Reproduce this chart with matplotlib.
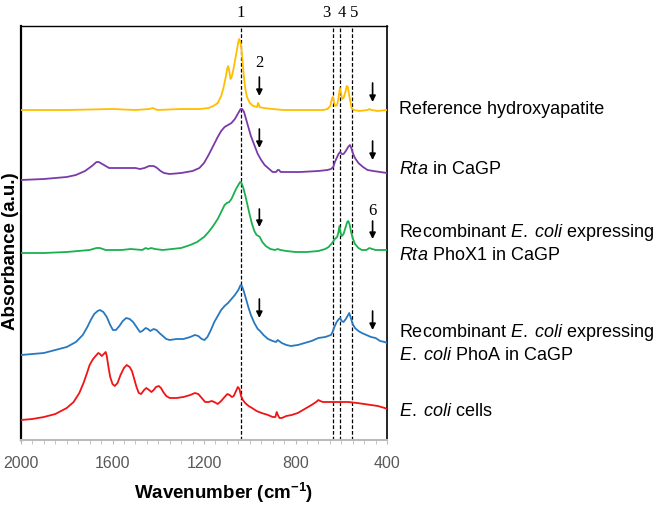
import matplotlib.pyplot as plt

plt.rcParams['font.family'] = ['Liberation Sans', 'DejaVu Sans']
plt.rcParams['mathtext.fontset'] = 'custom'
plt.rcParams['mathtext.rm'] = 'Liberation Sans'
plt.rcParams['mathtext.it'] = 'Liberation Sans:italic'
plt.rcParams['mathtext.bf'] = 'Liberation Sans:bold'

# spectra (wavenumber, absorbance incl. stacking offset)
ha_wn = [2000, 1800, 1600, 1500, 1440, 1423, 1405, 1300, 1217, 1180, 1159, 1140, 1125, 1115, 1105,
         1098, 1094, 1089, 1084, 1079, 1072, 1064, 1057, 1050, 1046, 1042, 1037, 1032, 1026, 1020,
         1012, 1000, 985, 968, 964, 961, 957, 940, 900, 853, 750, 680, 660, 648, 640, 636, 632, 626,
         618, 612, 606, 601, 596, 590, 582, 576, 571, 566, 560, 555, 545, 520, 485, 477, 468, 440, 400]
ha_abs = [3.30, 3.30, 3.31, 3.30, 3.31, 3.32, 3.30, 3.31, 3.31, 3.32, 3.34, 3.37, 3.44, 3.52, 3.63,
          3.72, 3.74, 3.68, 3.61, 3.63, 3.70, 3.80, 3.89, 3.98, 4.01, 3.99, 3.92, 3.80, 3.64, 3.52,
          3.43, 3.37, 3.34, 3.33, 3.37, 3.36, 3.33, 3.32, 3.31, 3.30, 3.30, 3.30, 3.31, 3.34, 3.42,
          3.43, 3.38, 3.34, 3.35, 3.42, 3.52, 3.47, 3.41, 3.42, 3.48, 3.54, 3.53, 3.46, 3.38, 3.32,
          3.30, 3.29, 3.30, 3.31, 3.30, 3.29, 3.30]

rta_wn = [2000, 1900, 1800, 1760, 1720, 1690, 1670, 1660, 1645, 1630, 1615, 1580, 1540, 1500, 1480,
          1460, 1440, 1420, 1405, 1390, 1375, 1350, 1300, 1250, 1220, 1200, 1180, 1160, 1140, 1125,
          1110, 1095, 1080, 1065, 1050, 1040, 1033, 1025, 1015, 1005, 995, 980, 965, 950, 935, 920,
          900, 885, 878, 872, 865, 840, 780, 700, 660, 645, 635, 628, 620, 612, 605, 598, 590, 580,
          570, 562, 556, 548, 540, 525, 505, 485, 460, 430, 400]
rta_abs = [2.60, 2.61, 2.63, 2.65, 2.69, 2.74, 2.78, 2.78, 2.76, 2.74, 2.72, 2.72, 2.72, 2.72, 2.71,
           2.72, 2.74, 2.74, 2.72, 2.69, 2.67, 2.66, 2.67, 2.69, 2.72, 2.77, 2.85, 2.94, 3.03, 3.09,
           3.13, 3.15, 3.17, 3.21, 3.27, 3.31, 3.31, 3.28, 3.20, 3.12, 3.04, 2.95, 2.86, 2.80, 2.75,
           2.72, 2.68, 2.68, 2.70, 2.70, 2.68, 2.68, 2.68, 2.69, 2.70, 2.71, 2.73, 2.78, 2.82, 2.86,
           2.88, 2.86, 2.86, 2.89, 2.93, 2.95, 2.92, 2.86, 2.82, 2.77, 2.73, 2.70, 2.69, 2.68, 2.67]

phox_wn = [2000, 1900, 1800, 1700, 1670, 1655, 1630, 1600, 1560, 1520, 1470, 1455, 1445, 1430, 1415,
           1380, 1340, 1300, 1260, 1230, 1200, 1180, 1160, 1140, 1125, 1110, 1100, 1090, 1080, 1070,
           1060, 1050, 1042, 1036, 1028, 1020, 1010, 1000, 990, 980, 970, 962, 956, 945, 930, 910,
           890, 878, 865, 840, 800, 750, 700, 670, 655, 640, 628, 618, 612, 608, 604, 598, 590, 582,
           574, 569, 563, 557, 550, 540, 525, 510, 490, 477, 465, 450, 400]
phox_abs = [1.87, 1.87, 1.88, 1.90, 1.92, 1.92, 1.90, 1.90, 1.90, 1.91, 1.90, 1.92, 1.91, 1.92, 1.91,
            1.90, 1.91, 1.92, 1.95, 1.98, 2.03, 2.08, 2.14, 2.21, 2.28, 2.35, 2.37, 2.38, 2.41, 2.46,
            2.51, 2.55, 2.58, 2.57, 2.52, 2.45, 2.35, 2.25, 2.16, 2.09, 2.05, 2.04, 2.03, 1.98, 1.94,
            1.91, 1.90, 1.91, 1.90, 1.89, 1.88, 1.88, 1.89, 1.91, 1.93, 1.97, 2.01, 2.03, 2.08, 2.14,
            2.08, 2.04, 2.06, 2.12, 2.18, 2.19, 2.15, 2.08, 2.02, 1.96, 1.92, 1.90, 1.90, 1.92, 1.91,
            1.90, 1.90]

phoa_wn = [2000, 1950, 1900, 1850, 1800, 1760, 1730, 1710, 1695, 1680, 1665, 1655, 1640, 1625, 1610,
           1598, 1585, 1570, 1555, 1540, 1525, 1510, 1495, 1480, 1470, 1455, 1445, 1435, 1420, 1408,
           1395, 1380, 1365, 1350, 1320, 1290, 1260, 1240, 1225, 1210, 1198, 1185, 1170, 1155, 1140,
           1125, 1110, 1095, 1080, 1065, 1050, 1040, 1034, 1025, 1015, 1005, 995, 980, 965, 955, 940,
           920, 900, 885, 878, 872, 860, 840, 820, 790, 760, 730, 700, 670, 645, 638, 630, 620, 610,
           605, 598, 590, 580, 570, 565, 558, 550, 540, 525, 510, 490, 470, 450, 430, 410, 400]
phoa_abs = [0.85, 0.86, 0.87, 0.90, 0.93, 0.98, 1.05, 1.13, 1.20, 1.26, 1.29, 1.30, 1.28, 1.23, 1.15,
            1.10, 1.10, 1.14, 1.19, 1.22, 1.21, 1.18, 1.13, 1.08, 1.09, 1.12, 1.11, 1.09, 1.11, 1.10,
            1.07, 1.04, 1.01, 1.00, 1.01, 1.01, 1.03, 1.05, 1.04, 1.01, 1.00, 1.03, 1.10, 1.18, 1.24,
            1.30, 1.34, 1.37, 1.41, 1.45, 1.50, 1.55, 1.54, 1.48, 1.40, 1.32, 1.25, 1.17, 1.11, 1.09,
            1.05, 1.01, 0.99, 0.98, 1.00, 0.99, 0.97, 0.95, 0.94, 0.95, 0.97, 0.99, 1.02, 1.03, 1.05,
            1.08, 1.13, 1.18, 1.21, 1.22, 1.19, 1.18, 1.21, 1.25, 1.27, 1.22, 1.16, 1.12, 1.09, 1.07,
            1.05, 1.03, 1.02, 0.99, 0.98, 0.97]

ecoli_wn = [2000, 1950, 1900, 1850, 1800, 1770, 1745, 1725, 1710, 1700, 1685, 1670, 1662, 1655, 1647,
            1638, 1630, 1625, 1617, 1610, 1600, 1590, 1578, 1565, 1550, 1538, 1525, 1515, 1505, 1495,
            1485, 1475, 1462, 1452, 1440, 1430, 1420, 1410, 1398, 1388, 1378, 1365, 1350, 1320, 1290,
            1260, 1240, 1225, 1210, 1195, 1180, 1166, 1155, 1140, 1125, 1110, 1098, 1088, 1078, 1070,
            1060, 1052, 1045, 1038, 1030, 1020, 1005, 990, 970, 948, 920, 900, 888, 882, 877, 870, 860,
            840, 817, 790, 760, 730, 710, 700, 692, 680, 640, 600, 569, 530, 500, 470, 440, 410, 400]
ecoli_abs = [0.20, 0.21, 0.23, 0.26, 0.32, 0.38, 0.47, 0.58, 0.68, 0.75, 0.81, 0.85, 0.87, 0.86, 0.84,
             0.86, 0.88, 0.84, 0.72, 0.63, 0.56, 0.54, 0.57, 0.65, 0.72, 0.75, 0.73, 0.69, 0.61, 0.53,
             0.47, 0.46, 0.50, 0.52, 0.50, 0.48, 0.50, 0.53, 0.54, 0.52, 0.48, 0.44, 0.42, 0.42, 0.43,
             0.45, 0.47, 0.46, 0.42, 0.38, 0.38, 0.39, 0.38, 0.36, 0.39, 0.43, 0.46, 0.45, 0.43, 0.44,
             0.49, 0.53, 0.51, 0.44, 0.40, 0.37, 0.34, 0.32, 0.29, 0.27, 0.25, 0.23, 0.23, 0.28, 0.25,
             0.22, 0.22, 0.24, 0.25, 0.27, 0.31, 0.35, 0.38, 0.40, 0.39, 0.38, 0.38, 0.38, 0.38, 0.37,
             0.36, 0.35, 0.34, 0.32, 0.31]

spectra = [(ha_wn, ha_abs, '#FFBE00'), (rta_wn, rta_abs, '#7A3BA8'), (phox_wn, phox_abs, '#1BB04E'),
           (phoa_wn, phoa_abs, '#2878C0'), (ecoli_wn, ecoli_abs, '#F01414')]

band_wn = [1038, 635, 605, 555]
band_labels = ['1', '3', '4', '5']
band_label_wn = [1038, 667, 598, 542]

ecoli = r'$\mathit{E.\;coli}$'
labels = ['Reference hydroxyapatite',
          r'$\mathit{Rta}$ in CaGP',
          'Recombinant ' + ecoli + ' expressing\n' + r'$\mathit{Rta}$ PhoX1 in CaGP',
          'Recombinant ' + ecoli + ' expressing\n' + ecoli + ' PhoA in CaGP',
          ecoli + ' cells']
label_y = [3.31, 2.71, 1.98, 0.98, 0.29]

# arrows: (wavenumber, start, tip)
arrows = [(958, 3.63, 3.44), (958, 3.11, 2.92), (958, 2.31, 2.13), (958, 1.41, 1.22),
          (463, 3.57, 3.38), (463, 2.99, 2.80), (463, 2.19, 2.01), (463, 1.29, 1.10)]

fig = plt.figure(figsize=(6.62, 5.10), dpi=100)
ax = fig.add_axes([21 / 662, 1 - 441 / 510, 366 / 662, 414 / 510])

for wn, ab, c in spectra:
    ax.plot(wn, ab, color=c, lw=1.3, zorder=3, solid_joinstyle='round')

for w in band_wn:
    ax.axvline(w, color='black', lw=0.9, ls=(0, (3, 1.6)), zorder=2)
for w, t in zip(band_label_wn, band_labels):
    ax.text(w, 1.033, t, transform=ax.get_xaxis_transform(), ha='center', va='center',
            fontsize=12, family='Liberation Serif')

for x, y0, y1 in arrows:
    ax.annotate('', xy=(x, y1), xytext=(x, y0),
                arrowprops=dict(arrowstyle='-|>', color='black', lw=1.2, mutation_scale=9,
                                shrinkA=0, shrinkB=0))
ax.text(958, 3.78, '2', ha='center', va='center', fontsize=12, family='Liberation Serif')
ax.text(463, 2.30, '6', ha='center', va='center', fontsize=12, family='Liberation Serif')

for t, y in zip(labels, label_y):
    ax.text(1.033, y, t, transform=ax.get_yaxis_transform(), ha='left', va='center',
            fontsize=13, linespacing=1.25)

ax.set_xlim(2000, 400)
ax.set_ylim(0, 4.14)
ax.set_xticks([2000, 1600, 1200, 800, 400])
ax.set_xticks(range(400, 2001, 50), minor=True)
ax.set_yticks([])
ax.tick_params(axis='x', which='both', direction='out', length=3, color='#BBBBBB',
               labelsize=11.5, labelcolor='#595959', pad=8)
ax.spines['bottom'].set_color('#BBBBBB')
ax.spines['bottom'].set_linewidth(1.5)
ax.spines['left'].set_linewidth(1.6)
ax.spines['right'].set_linewidth(1.2)
ax.spines['top'].set_linewidth(1.0)

fig.text(224 / 662, 1 - 493 / 510, 'Wavenumber (cm$^{\\mathbf{-1}}$)', ha='center', va='center',
         fontsize=13.5, fontweight='bold')
fig.text(11 / 662, 1 - 251 / 510, 'Absorbance (a.u.)', ha='center', va='center', rotation=90,
         fontsize=13.5, fontweight='bold')

fig.savefig('out.png', dpi=100)
